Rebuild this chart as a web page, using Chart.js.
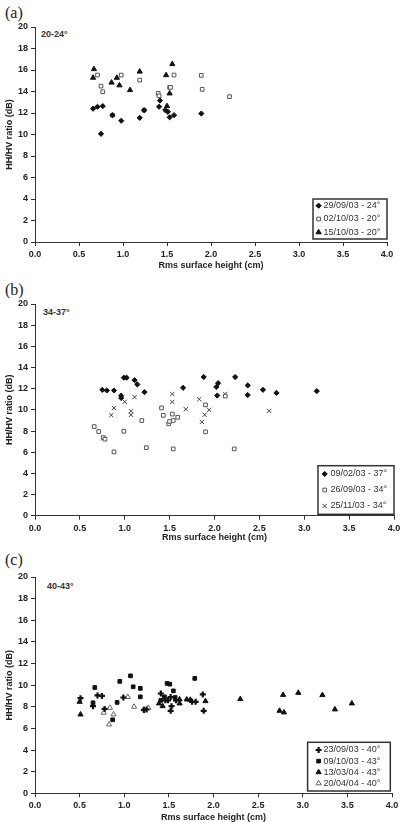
<!DOCTYPE html>
<html>
<head>
<meta charset="utf-8">
<script src="https://cdn.jsdelivr.net/npm/chart.js@4"></script>
<style>
  html, body { margin: 0; padding: 0; background: #fff; overflow: hidden; }
  body { width: 409px; height: 822px; position: relative; font-family: "Liberation Sans", Arial, sans-serif; }
  canvas { position: absolute; left: 0; }
  .panel { position: absolute; left: 5px; font: 16px "Liberation Serif", "Times New Roman", serif; color: #222; line-height: 16px; }
  .range { position: absolute; font: bold 9px "Liberation Sans", Arial, sans-serif; color: #333; line-height: 10px; }
</style>
</head>
<body>
<div class="panel" style="top:5px">(a)</div>
<div class="range" style="left:41px;top:29px">20-24°</div>
<canvas id="chartA" width="409" height="273" style="top:0px"></canvas>

<div class="panel" style="top:282px">(b)</div>
<div class="range" style="left:43px;top:307px">34-37°</div>
<canvas id="chartB" width="409" height="272" style="top:273px"></canvas>

<div class="panel" style="top:552px">(c)</div>
<div class="range" style="left:47px;top:581px">40-43°</div>
<canvas id="chartC" width="409" height="280" style="top:545px"></canvas>

<script>
// ---------------- data: [rms height (cm), HH/HV ratio (dB)] ----------------
// (a) 20-24°
const a_290903 = [[0.66,12.4],[0.71,12.58],[0.77,12.64],[0.75,10.06],[0.88,11.8],[0.98,11.28],[1.19,11.55],[1.24,12.26],[1.41,12.58],[1.42,13.16],[1.48,12.27],[1.51,12.11],[1.53,11.6],[1.58,11.8],[1.89,11.95]];
const a_021003 = [[0.71,15.53],[0.75,14.5],[0.77,13.98],[0.98,15.53],[1.19,15.06],[1.40,13.83],[1.41,13.6],[1.53,14.38],[1.54,14.38],[1.58,15.53],[1.89,15.5],[1.90,14.2],[2.21,13.52],[0.88,11.8],[1.24,12.26]];
const a_151003 = [[0.67,16.08],[0.66,15.28],[0.87,14.83],[0.93,15.28],[0.96,14.57],[1.08,14.13],[1.19,15.85],[1.49,15.52],[1.56,16.55],[1.53,13.82],[1.50,12.64]];

// (b) 34-37°
const b_090203 = [[0.75,11.89],[0.80,11.83],[0.88,11.83],[0.96,11.34],[0.96,11.12],[0.99,13.04],[1.02,13.04],[1.11,12.8],[1.14,12.4],[1.22,11.67],[1.65,12.08],[1.88,13.1],[2.02,12.16],[2.04,12.52],[2.03,11.35],[2.23,13.1],[2.37,12.31],[2.37,11.4],[2.54,11.89],[2.69,11.6],[3.14,11.77]];
const b_260903 = [[0.66,8.42],[0.71,7.95],[0.76,7.38],[0.78,7.23],[0.88,6.03],[0.99,7.98],[1.19,8.99],[1.24,6.43],[1.41,10.18],[1.43,9.48],[1.49,8.68],[1.50,8.9],[1.53,9.6],[1.54,8.99],[1.59,9.3],[1.54,6.31],[1.90,10.47],[1.90,7.92],[2.22,6.31],[2.12,11.3]];
const b_251103 = [[0.85,9.5],[0.88,10.18],[1.00,10.76],[1.07,9.87],[1.07,9.53],[1.11,11.2],[1.53,11.5],[1.53,10.75],[1.68,10.06],[1.83,11.0],[1.94,10.0],[1.89,9.53],[1.86,8.86],[2.12,11.5],[2.61,9.9],[0.76,7.3]];

// (c) 40-43°
const c_230903 = [[0.51,8.8],[0.65,8.06],[0.70,9.05],[0.75,9.0],[0.78,7.8],[0.99,8.86],[1.22,7.7],[1.25,7.75],[1.41,9.23],[1.46,8.6],[1.49,8.6],[1.52,8.9],[1.53,8.06],[1.52,7.63],[1.58,8.6],[1.76,8.46],[1.80,8.46],[1.88,9.14],[1.89,7.63]];
const c_091003 = [[0.67,9.78],[0.65,8.37],[0.87,6.8],[0.92,8.4],[0.95,10.35],[1.07,10.86],[1.10,9.85],[1.18,9.7],[1.18,8.92],[1.41,8.6],[1.45,8.92],[1.48,10.16],[1.51,10.09],[1.55,9.47],[1.57,8.86],[1.79,10.62]];
const c_130304 = [[0.50,8.46],[0.51,7.29],[1.39,8.31],[1.43,8.06],[1.62,8.31],[1.62,8.68],[1.70,8.68],[1.74,8.65],[1.91,8.52],[2.30,8.71],[2.74,7.63],[2.79,7.48],[2.78,9.1],[2.95,9.29],[3.22,9.08],[3.36,7.76],[3.55,8.31]];
const c_200404 = [[0.77,7.45],[0.84,7.9],[0.88,7.3],[0.83,6.37],[1.04,8.9],[1.11,8.0],[1.22,7.76],[1.27,7.9]];

const xTicks = [0, 0.5, 1, 1.5, 2, 2.5, 3, 3.5, 4];
const yTicks = [0, 2, 4, 6, 8, 10, 12, 14, 16, 18, 20];

const toXY = pts => pts.map(p => ({ x: p[0], y: p[1] }));

// marker styles
const filledDiamond = { pointStyle: "rectRot", radius: 2.6, backgroundColor: "#111", borderColor: "#111", borderWidth: 1 };
const openSquare = { pointStyle: "rect", radius: 2.6, backgroundColor: "#fff", borderColor: "#555", borderWidth: 1 };
const filledTriangle = { pointStyle: "triangle", radius: 3, backgroundColor: "#111", borderColor: "#111", borderWidth: 1 };
const openTriangle = { pointStyle: "triangle", radius: 3, backgroundColor: "#fff", borderColor: "#666", borderWidth: 1 };
const crossMark = { pointStyle: "crossRot", radius: 3, backgroundColor: "#444", borderColor: "#444", borderWidth: 1 };
const plusMark = { pointStyle: "cross", radius: 3, backgroundColor: "#111", borderColor: "#111", borderWidth: 2.2 };
const filledSquare = { pointStyle: "rect", radius: 2.6, backgroundColor: "#111", borderColor: "#111", borderWidth: 1 };

function makeDataset(label, pts, style) {
    return {
        label: label,
        data: toXY(pts),
        pointStyle: style.pointStyle,
        pointRadius: style.radius,
        pointBackgroundColor: style.backgroundColor,
        pointBorderColor: style.borderColor,
        pointBorderWidth: style.borderWidth,
        showLine: false
    };
}

// legend in a framed box at the bottom right of the plot area
const boxLegend = {
    id: "boxLegend",
    afterDatasetsDraw(chart, args, opts) {
        const { ctx, chartArea } = chart;
        const x0 = chartArea.right - opts.right - opts.width;
        const y0 = chartArea.bottom - opts.bottom - opts.height;
        ctx.save();
        ctx.fillStyle = "#fff";
        ctx.fillRect(x0, y0, opts.width, opts.height);
        ctx.strokeStyle = "#333";
        ctx.lineWidth = 1.5;
        ctx.strokeRect(x0, y0, opts.width, opts.height);
        ctx.font = "9px 'Liberation Sans', Arial, sans-serif";
        ctx.textBaseline = "middle";
        chart.data.datasets.forEach((ds, i) => {
            const y = y0 + opts.first + i * opts.step;
            ctx.fillStyle = ds.pointBackgroundColor;
            ctx.strokeStyle = ds.pointBorderColor;
            ctx.lineWidth = ds.pointBorderWidth;
            Chart.helpers.drawPoint(ctx, { pointStyle: ds.pointStyle, radius: ds.pointRadius, borderWidth: ds.pointBorderWidth, rotation: 0 }, x0 + opts.markX, y);
            ctx.fillStyle = "#333";
            ctx.fillText(ds.label, x0 + opts.textX, y);
        });
        ctx.restore();
    }
};

const tickFont = { family: "'Liberation Sans', Arial, sans-serif", size: 9, weight: "bold" };
const titleFont = { family: "'Liberation Sans', Arial, sans-serif", size: 9, weight: "bold" };

function makeChart(id, datasets, pad, xHeight, legendOpts) {
    const ctx = document.getElementById(id).getContext("2d");
    return new Chart(ctx, {
        type: "scatter",
        data: { datasets: datasets },
        options: {
            responsive: false,
            animation: false,
            devicePixelRatio: 1,
            layout: { padding: pad },
            plugins: {
                legend: { display: false },
                tooltip: { enabled: false },
                boxLegend: legendOpts
            },
            scales: {
                x: {
                    type: "linear",
                    min: 0,
                    max: 4,
                    afterBuildTicks: s => { s.ticks = xTicks.map(v => ({ value: v })); },
                    afterFit: s => { s.height = xHeight; },
                    ticks: { font: tickFont, color: "#222", padding: 3, maxRotation: 0, callback: v => Number(v).toFixed(1) },
                    grid: { drawOnChartArea: false, drawTicks: true, tickLength: 4, color: "#333" },
                    border: { display: true, color: "#333", width: 1 },
                    title: { display: true, text: "Rms surface height (cm)", font: titleFont, color: "#222", padding: { top: 2, bottom: 2 } }
                },
                y: {
                    type: "linear",
                    min: 0,
                    max: 20,
                    afterBuildTicks: s => { s.ticks = yTicks.map(v => ({ value: v })); },
                    afterFit: s => { s.width = 35; },
                    ticks: { font: tickFont, color: "#222", padding: 3 },
                    grid: { drawOnChartArea: false, drawTicks: true, tickLength: 4, color: "#333" },
                    border: { display: true, color: "#333", width: 1 },
                    title: { display: true, text: "HH/HV ratio (dB)", font: titleFont, color: "#222", padding: { top: 4, bottom: 2 } }
                }
            }
        },
        plugins: [boxLegend]
    });
}

makeChart("chartA", [
    makeDataset("29/09/03 - 24°", a_290903, filledDiamond),
    makeDataset("02/10/03 - 20°", a_021003, openSquare),
    makeDataset("15/10/03 - 20°", a_151003, filledTriangle)
], { top: 27, right: 22, left: 0, bottom: 0 }, 31,
   { width: 74, height: 40, right: 0, bottom: 3, first: 6.7, step: 13.3, markX: 5.6, textX: 10.6 });

makeChart("chartB", [
    makeDataset("09/02/03 - 37°", b_090203, filledDiamond),
    makeDataset("26/09/03 - 34°", b_260903, openSquare),
    makeDataset("25/11/03 - 34°", b_251103, crossMark)
], { top: 31, right: 15, left: 0, bottom: 0 }, 29.3,
   { width: 76, height: 48.6, right: 0, bottom: 1.4, first: 8.3, step: 16, markX: 6.7, textX: 12.4 });

makeChart("chartC", [
    makeDataset("23/09/03 - 40°", c_230903, plusMark),
    makeDataset("09/10/03 - 43°", c_091003, filledSquare),
    makeDataset("13/03/04 - 43°", c_130304, filledTriangle),
    makeDataset("20/04/04 - 40°", c_200404, openTriangle)
], { top: 32, right: 17, left: 0, bottom: 0 }, 31.7,
   { width: 82.7, height: 48.7, right: 1.7, bottom: 2.3, first: 7.7, step: 11.1, markX: 11, textX: 16 });
</script>
</body>
</html>
